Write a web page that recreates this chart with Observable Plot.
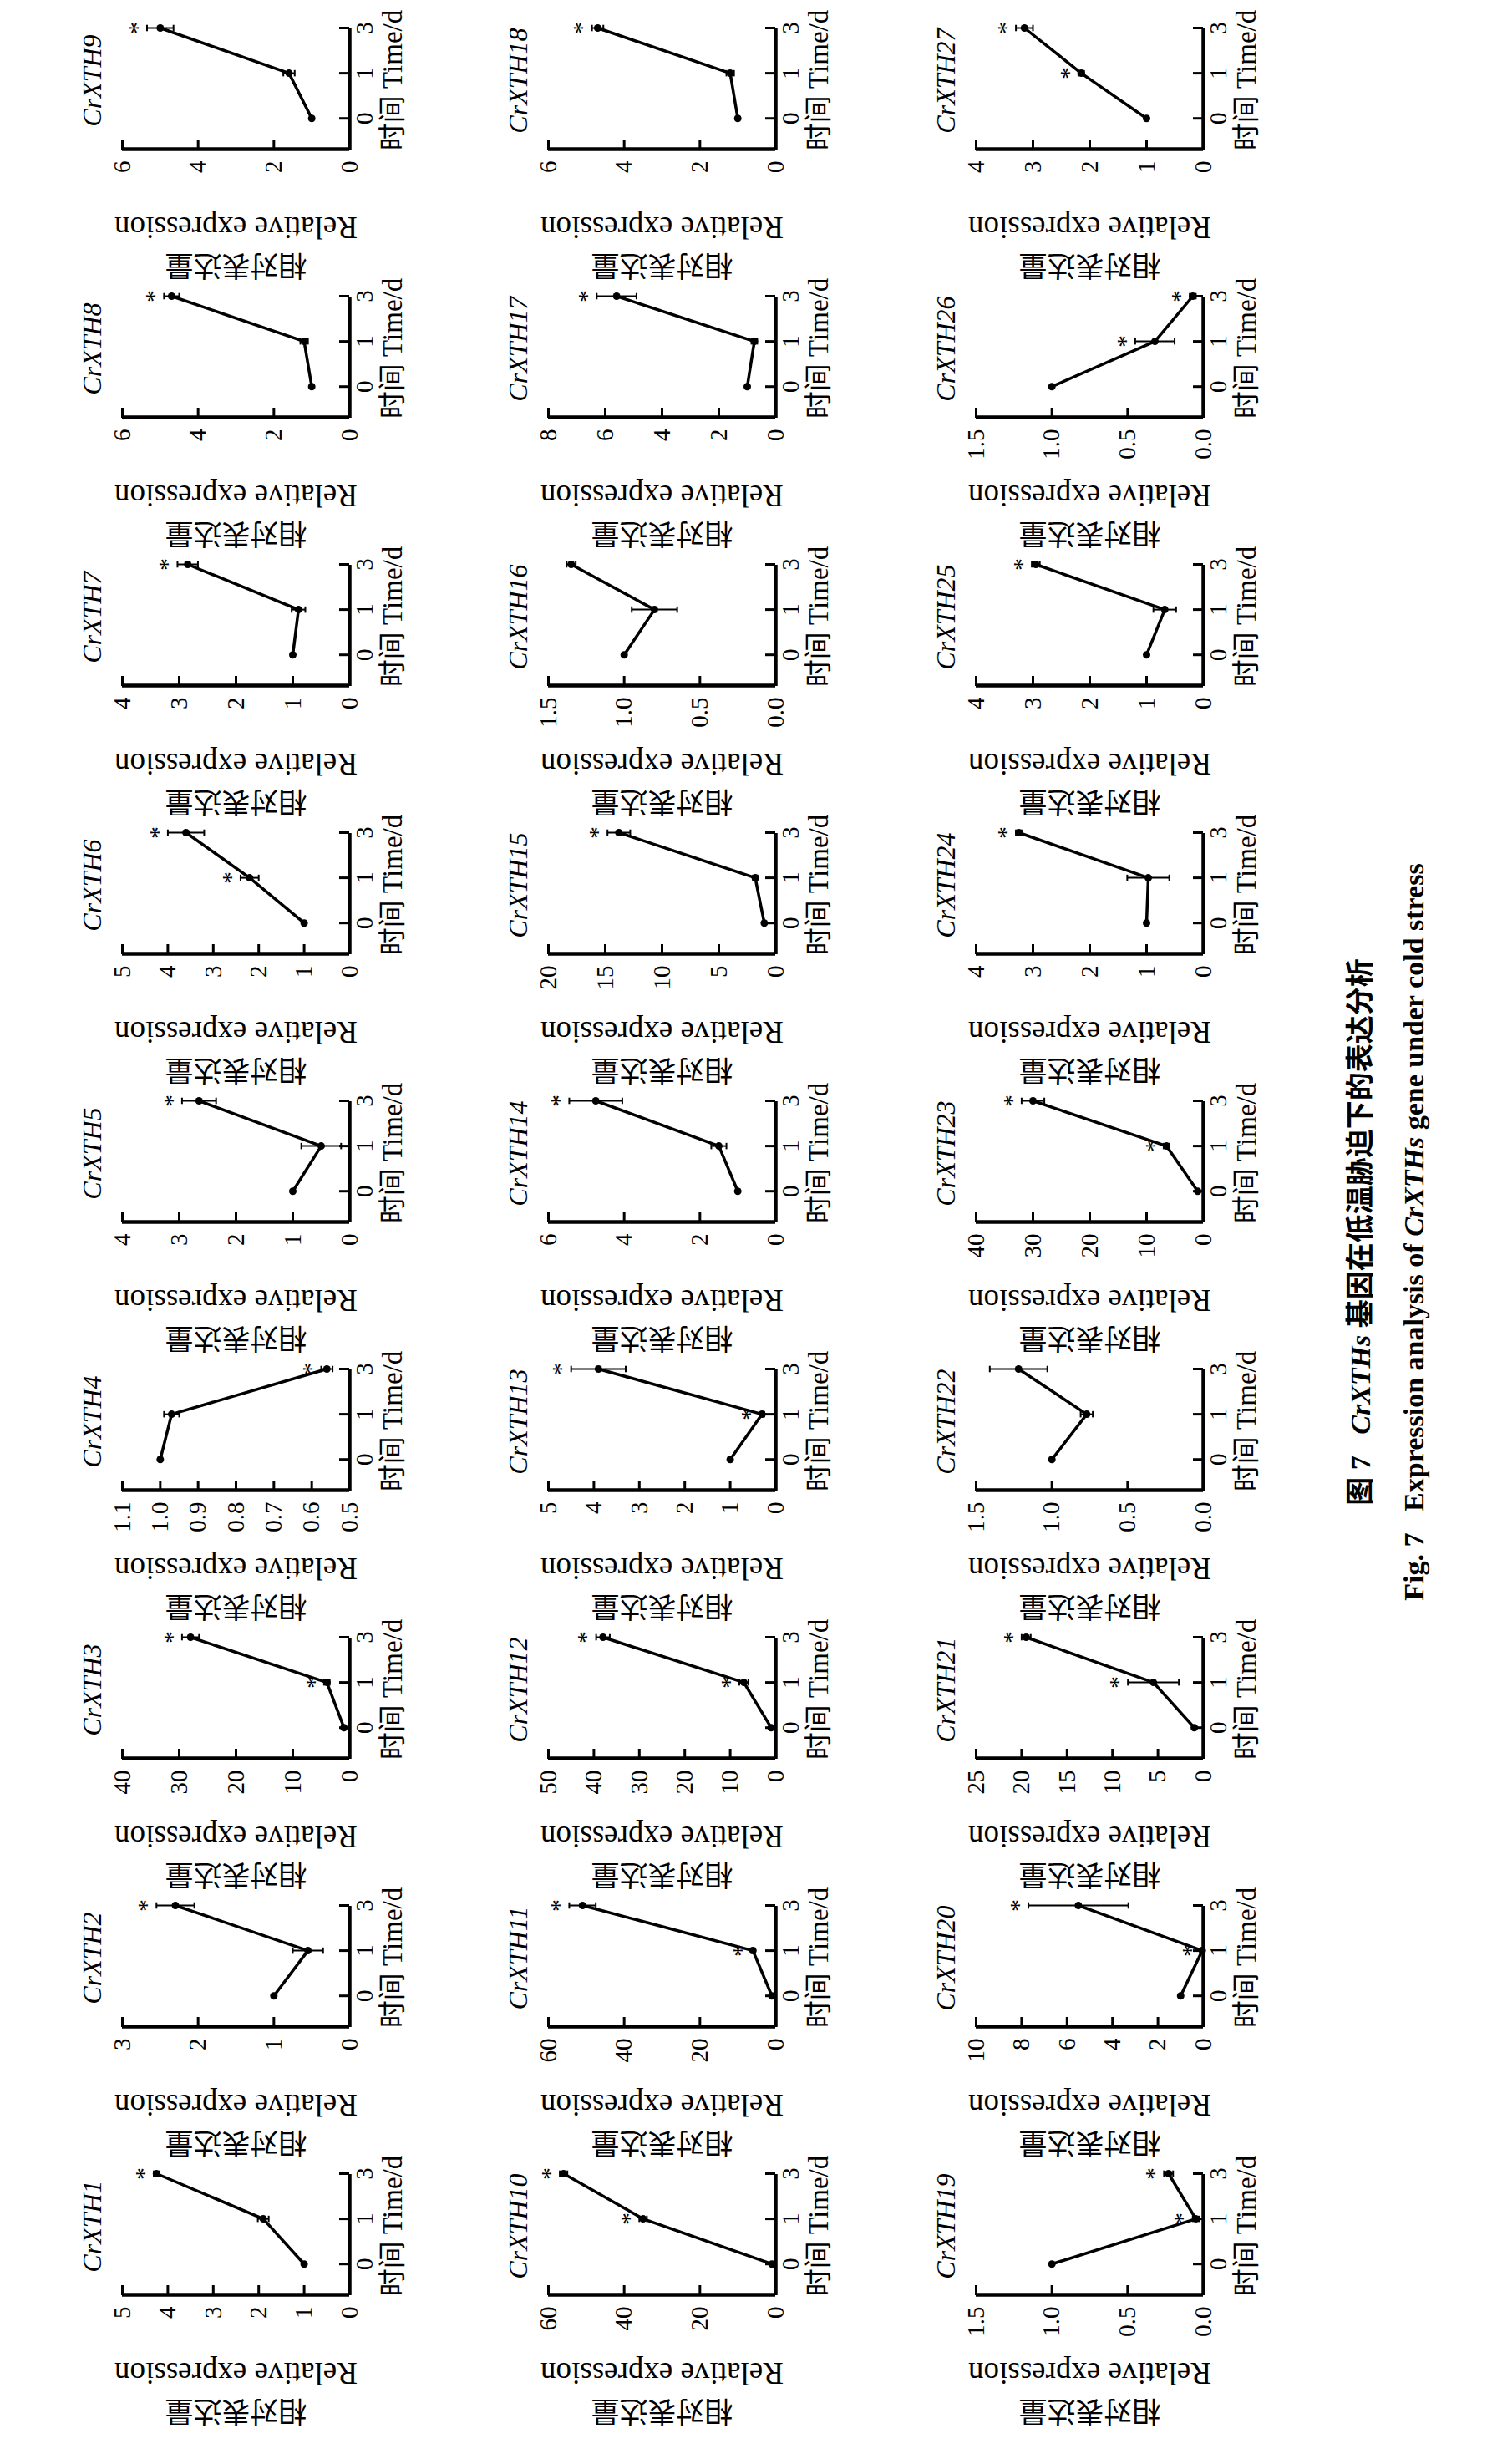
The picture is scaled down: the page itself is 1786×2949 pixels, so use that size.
<!DOCTYPE html>
<html><head><meta charset="utf-8">
<script src="https://cdn.jsdelivr.net/npm/d3@7"></script>
<script src="https://cdn.jsdelivr.net/npm/@observablehq/plot@0.6"></script>
<style>
html,body{margin:0;padding:0;background:#fff;overflow:hidden;width:1786px;height:2949px;}
#land{position:absolute;left:0;top:0;width:2949px;height:1786px;transform-origin:0 0;transform:translate(0px,2949px) rotate(-90deg);background:#fff;}
.panel{position:absolute;}
.title{position:absolute;font-family:"Liberation Serif",serif;font-style:italic;font-size:32px;text-align:center;width:200px;line-height:1;}
.cap{position:absolute;left:0;width:2949px;text-align:center;font-family:"Liberation Serif","Noto Sans CJK SC",serif;font-weight:bold;font-size:34px;line-height:1;}
</style></head><body>
<div id="land"></div>
<script>
const genes = ["CrXTH1","CrXTH2","CrXTH3","CrXTH4","CrXTH5","CrXTH6","CrXTH7","CrXTH8","CrXTH9",
  "CrXTH10","CrXTH11","CrXTH12","CrXTH13","CrXTH14","CrXTH15","CrXTH16","CrXTH17","CrXTH18",
  "CrXTH19","CrXTH20","CrXTH21","CrXTH22","CrXTH23","CrXTH24","CrXTH25","CrXTH26","CrXTH27"];
const timeLabels = ["0","1","3"];
const means = [
  [1,1.9,4.25],[1,0.55,2.3],[1,4,28],[1.0,0.97,0.56],[1,0.5,2.65],[1,2.2,3.6],[1,0.9,2.85],[1,1.2,4.7],[1,1.6,5.0],
  [1,35,56],[1,6,51],[1,7,38],[1,0.3,3.9],[1,1.5,4.75],[1,1.8,13.8],[1,0.8,1.35],[1,0.75,5.6],[1,1.2,4.7],
  [1,0.05,0.23],[1,0.05,5.5],[1,5.5,19.5],[1,0.77,1.22],[1,6.5,30],[1,0.97,3.25],[1,0.68,2.95],[1,0.32,0.07],[1,2.15,3.15]];
const errs = [
  [0,0.12,0.06],[0,0.2,0.25],[0,0.5,1.5],[0,0.02,0.015],[0,0.35,0.3],[0,0.2,0.4],[0,0.12,0.18],[0,0.1,0.2],[0,0.15,0.35],
  [0,1,1],[0,0.5,3.5],[0,1,1.5],[0,0.05,0.6],[0,0.2,0.7],[0,0.2,1],[0,0.15,0.03],[0,0.1,0.7],[0,0.1,0.15],
  [0,0.02,0.03],[0,0.05,2.2],[0,2.8,0.5],[0,0.04,0.19],[0,0.5,2],[0,0.37,0.05],[0,0.2,0.07],[0,0.13,0.02],[0,0.05,0.15]];
const stars = [
  [2],[2],[1,2],[2],[2],[1,2],[2],[2],[2],
  [1,2],[1,2],[1,2],[1,2],[2],[2],[],[2],[2],
  [1,2],[1,2],[1,2],[],[1,2],[2],[2],[1,2],[1,2]];
const yMin = [0,0,0,0.5,0,0,0,0,0, 0,0,0,0,0,0,0,0,0, 0,0,0,0,0,0,0,0,0];
const yMax = [5,3,40,1.1,4,5,4,6,6, 60,60,50,5,6,20,1.5,8,6, 1.5,10,25,1.5,40,4,4,1.5,4];
const yStep = [1,1,10,0.1,1,1,1,2,2, 20,20,10,1,2,5,0.5,2,2, 0.5,2,5,0.5,10,1,1,0.5,1];

const land = document.getElementById("land");
const FW = 145, FH = 272, ML = 160, MT = 20, MB = 80, MR = 20;
const colX0 = 202, colPitch = 321, rowTop = [146, 656, 1168];
const serif = "Liberation Serif, serif";

genes.forEach((g, k) => {
  const row = Math.floor(k / 9), col = k % 9;
  const axisX = colX0 + col * colPitch, top = rowTop[row];
  const lo = yMin[k], hi = yMax[k], st = yStep[k];
  const ticks = d3.range(lo, hi + st / 2, st).map(v => +v.toFixed(3));
  const fmt = st < 1 ? (d => d.toFixed(1)) : (d => String(d));
  const xd = [-0.68, 2];
  const pts = means[k].map((v, i) => ({i, v, e: errs[k][i]}));
  const st_ = stars[k].map(i => pts[i]);
  const tl = 12;
  const xTickLen = (hi - lo) * tl / FH, yTickLen = (xd[1] - xd[0]) * tl / FW;
  const cap = 0.07;
  const plot = Plot.plot({
    width: ML + FW + MR, height: MT + FH + MB,
    marginLeft: ML, marginRight: MR, marginTop: MT, marginBottom: MB,
    style: {fontFamily: serif, fontSize: "29px", background: "transparent", color: "#000", overflow: "visible"},
    x: {domain: xd, ticks: [0,1,2], tickFormat: i => timeLabels[i], label: null},
    y: {domain: [lo, hi], ticks, tickFormat: fmt, label: null},
    marks: [
      Plot.axisX({ticks: [0,1,2], tickFormat: i => timeLabels[i], tickSize: 0, tickPadding: 7, label: null, fontSize: 29}),
      Plot.axisY({ticks, tickFormat: fmt, tickSize: 0, tickPadding: 14, label: null, fontSize: 29}),
      Plot.ruleY(ticks, {y: d => d, x1: xd[0], x2: xd[0] + yTickLen, strokeWidth: 3}),
      Plot.ruleX([0,1,2], {x: d => d, y1: lo, y2: lo + xTickLen, strokeWidth: 3}),
      Plot.ruleX([xd[0]], {y1: lo, y2: hi, strokeWidth: 4.5}),
      Plot.ruleY([lo], {x1: xd[0], x2: xd[1], strokeWidth: 4.5}),
      Plot.ruleX(pts.filter(p => p.e > 0), {x: "i", y1: p => p.v - p.e, y2: p => p.v + p.e, strokeWidth: 2}),
      Plot.link(pts.filter(p => p.e > 0), {x1: p => p.i - cap, x2: p => p.i + cap, y1: p => p.v + p.e, y2: p => p.v + p.e, strokeWidth: 2}),
      Plot.link(pts.filter(p => p.e > 0), {x1: p => p.i - cap, x2: p => p.i + cap, y1: p => p.v - p.e, y2: p => p.v - p.e, strokeWidth: 2}),
      Plot.line(pts, {x: "i", y: "v", strokeWidth: 3.5}),
      Plot.dot(pts, {x: "i", y: "v", r: 4.5, fill: "#000"}),
      Plot.text(st_, {x: "i", y: p => p.v + p.e, text: () => "*", dy: -12, fontSize: 30, fontFamily: serif}),
      Plot.text(["Relative expression"], {frameAnchor: "left", textAnchor: "middle", rotate: -90, dx: -93, fontSize: 37, fontFamily: serif}),
      Plot.text(["相对表达量"], {frameAnchor: "left", textAnchor: "middle", rotate: -90, dx: -138, fontSize: 34, fontFamily: "Noto Sans CJK SC", fontWeight: 400}),
      Plot.text(["时间 Time/d"], {frameAnchor: "bottom", dy: 62, dx: 10, fontSize: 33, fontFamily: "Liberation Serif, Noto Sans CJK SC"})
    ]
  });
  const div = document.createElement("div");
  div.className = "panel";
  div.style.left = (axisX - ML) + "px";
  div.style.top = (top - MT) + "px";
  div.appendChild(plot);
  land.appendChild(div);
  const t = document.createElement("div");
  t.className = "title";
  t.textContent = g;
  t.style.left = (axisX + FW / 2 + 10 - 100) + "px";
  t.style.top = (top - 52) + "px";
  land.appendChild(t);
});

const cap1 = document.createElement("div");
cap1.className = "cap"; cap1.style.top = "1612px";
cap1.innerHTML = "图 7&nbsp;&nbsp;&nbsp;<i>CrXTHs</i> 基因在低温胁迫下的表达分析";
const cap2 = document.createElement("div");
cap2.className = "cap"; cap2.style.top = "1676px";
cap2.innerHTML = "Fig. 7&nbsp;&nbsp;&nbsp;Expression analysis of <i>CrXTHs</i> gene under cold stress";
land.appendChild(cap1); land.appendChild(cap2);
</script>
</body></html>
